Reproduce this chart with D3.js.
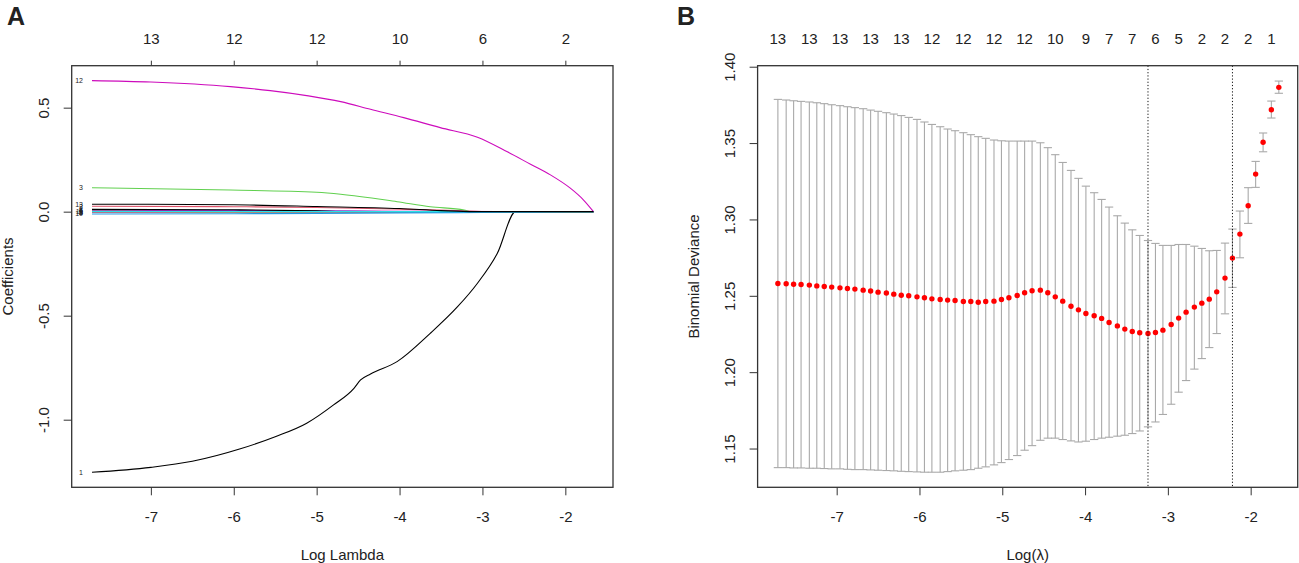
<!DOCTYPE html>
<html>
<head>
<meta charset="utf-8">
<script src="https://cdn.jsdelivr.net/npm/d3@7"></script>
<style>
body { margin: 0; background: #fff; }
text { font-family: "Liberation Sans", Arial, sans-serif; fill: #222; }
</style>
</head>
<body>
<div id="chart"></div>
<script>
// ---- panel A : coefficient paths (log lambda, coefficient) ----
var coef1  = [[-7.71,-1.253],[-7.0,-1.229],[-6.5,-1.200],[-5.92,-1.140],[-5.5,-1.082],[-5.12,-1.017],[-4.8,-0.930],[-4.55,-0.849],[-4.47,-0.809],[-4.35,-0.780],[-4.03,-0.721],[-3.63,-0.585],[-3.30,-0.457],[-3.06,-0.344],[-2.82,-0.200],[-2.6,0],[-1.66,0]];
var coef2  = [[-7.71,0.026],[-6,0.024],[-5,0.020],[-4,0.012],[-3.3,0.005],[-2.9,0],[-1.66,0]];
var coef3  = [[-7.71,0.115],[-6.04,0.104],[-5.0,0.093],[-4.71,0.084],[-4.03,0.048],[-3.63,0.024],[-3.22,0.008],[-3.14,0],[-1.66,0]];
var coef4  = [[-7.71,0.007],[-6,0.006],[-5,0.004],[-4.2,0.001],[-3.8,0],[-1.66,0]];
var coef5  = [[-7.71,-0.004],[-6,-0.003],[-5,-0.002],[-4.4,0],[-1.66,0]];
var coef6  = [[-7.71,0.004],[-6,0.004],[-5,0.003],[-4,0.002],[-2.8,0],[-1.66,0]];
var coef7  = [[-7.71,0.011],[-6,0.009],[-5,0.004],[-4.6,0],[-1.66,0]];
var coef8  = [[-7.71,-0.002],[-5,-0.002],[-3,-0.001],[-2.4,0],[-1.66,0]];
var coef9  = [[-7.71,0.002],[-7,0.001],[-6.5,0],[-1.66,0]];
var coef10 = [[-7.71,-0.011],[-6,-0.010],[-5,-0.008],[-4,-0.006],[-3,-0.004],[-2.4,-0.002],[-1.95,0],[-1.66,0]];
var coef11 = [[-7.71,0.001],[-5,0.001],[-3.6,0],[-1.66,0]];
var coef12 = [[-7.71,0.630],[-7.0,0.623],[-6.04,0.601],[-5.56,0.582],[-5.12,0.558],[-4.71,0.529],[-4.35,0.492],[-3.95,0.452],[-3.51,0.404],[-3.06,0.358],[-2.70,0.288],[-2.42,0.228],[-2.18,0.177],[-1.94,0.113],[-1.78,0.056],[-1.66,0]];
var coef13 = [[-7.71,0.036],[-6,0.033],[-5,0.025],[-4,0.015],[-3.5,0.005],[-3.1,0],[-1.66,0]];
var coefPaths = [coef1, coef2, coef3, coef4, coef5, coef6, coef7, coef8, coef9, coef10, coef11, coef12, coef13];

var dfTicks  = [-7, -6, -5, -4, -3, -2];
var dfLabels = ['13', '12', '12', '10', '6', '2'];
var coefTicks = [-1.0, -0.5, 0.0, 0.5];
var lambdaTicks = [-7, -6, -5, -4, -3, -2];

// ---- panel B : cross validation ----
var logLambda = [-7.71,-7.61,-7.52,-7.43,-7.33,-7.24,-7.15,-7.06,-6.96,-6.87,-6.78,-6.68,-6.59,-6.50,-6.40,-6.31,-6.22,-6.13,-6.03,-5.94,
	-5.85,-5.75,-5.66,-5.57,-5.47,-5.38,-5.29,-5.20,-5.10,-5.01,-4.92,-4.82,-4.73,-4.64,-4.54,-4.45,-4.36,-4.27,-4.17,-4.08,
	-3.99,-3.89,-3.80,-3.71,-3.61,-3.52,-3.43,-3.34,-3.24,-3.15,-3.06,-2.96,-2.87,-2.78,-2.68,-2.59,-2.50,-2.41,-2.31,-2.22,
	-2.13,-2.03,-1.94,-1.85,-1.75,-1.66];
var cvm = [1.2581,1.2579,1.2576,1.2574,1.2570,1.2565,1.2561,1.2557,1.2552,1.2548,1.2544,1.2537,1.2531,1.2524,1.2518,1.2511,1.2504,1.2500,1.2493,1.2487,
	1.2480,1.2476,1.2472,1.2469,1.2463,1.2463,1.2458,1.2463,1.2465,1.2476,1.2487,1.2502,1.2520,1.2533,1.2537,1.2520,1.2493,1.2465,1.2432,1.2408,
	1.2384,1.2369,1.2352,1.2325,1.2303,1.2282,1.2266,1.2258,1.2253,1.2260,1.2275,1.2312,1.2354,1.2393,1.2426,1.2452,1.2478,1.2526,1.2616,1.2747,
	1.2904,1.3090,1.3297,1.3505,1.3718,1.3865];
var cvup = [1.3786,1.3782,1.3777,1.3773,1.3769,1.3764,1.3758,1.3751,1.3745,1.3738,1.3732,1.3725,1.3716,1.3708,1.3699,1.3690,1.3680,1.3668,1.3655,1.3638,
	1.3622,1.3607,1.3592,1.3581,1.3568,1.3555,1.3542,1.3531,1.3520,1.3515,1.3513,1.3513,1.3513,1.3513,1.3502,1.3470,1.3424,1.3373,1.3321,1.3269,
	1.3218,1.3175,1.3131,1.3081,1.3024,1.2976,1.2932,1.2895,1.2862,1.2843,1.2830,1.2830,1.2836,1.2836,1.2825,1.2810,1.2795,1.2797,1.2845,1.2937,
	1.3055,1.3208,1.3380,1.3566,1.3775,1.3906];
var cvlo = [1.1375,1.1375,1.1373,1.1373,1.1371,1.1371,1.1369,1.1367,1.1367,1.1364,1.1362,1.1362,1.1360,1.1358,1.1356,1.1354,1.1351,1.1349,1.1347,1.1345,
	1.1345,1.1345,1.1349,1.1354,1.1358,1.1362,1.1371,1.1380,1.1393,1.1408,1.1428,1.1454,1.1489,1.1519,1.1554,1.1568,1.1568,1.1559,1.1550,1.1543,
	1.1548,1.1559,1.1568,1.1574,1.1581,1.1587,1.1598,1.1615,1.1642,1.1674,1.1723,1.1790,1.1869,1.1945,1.2020,1.2089,1.2161,1.2253,1.2382,1.2555,
	1.2749,1.2974,1.3210,1.3443,1.3664,1.3826];
var nzIndex  = [0,4,8,12,16,20,24,28,32,36,40,43,46,49,52,55,58,61,64];
var nzLabels = ['13','13','13','13','13','12','12','12','12','10','9','7','7','6','5','2','2','2','1'];
var devTicks = [1.15, 1.20, 1.25, 1.30, 1.35, 1.40];
var lambdaMinIndex = 48;
var lambda1seIndex = 59;

var width = 1299;
var height = 563;
var plotTop = 65.7;
var plotBottom = 487.3;
var palette = ['black', '#DF536B', '#61D04F', '#2297E6', '#28E2E5', '#CD0BBC'];

var svg = d3.select('#chart')
			.append('svg')
			.attr('width', width)
			.attr('height', height);

function bottomAxis(g, x_scale) {
	var ax = g.append('g')
		.attr('transform', 'translate(0,' + plotBottom + ')')
		.call(d3.axisBottom(x_scale).tickValues(lambdaTicks).tickSize(8).tickSizeOuter(0).tickFormat(function(d){ return String(d); }));
	ax.select('.domain').remove();
	ax.selectAll('line').attr('stroke', '#333');
	ax.selectAll('text').attr('y', 29.5).attr('dy', '0.35em').style('font-size', '15px').attr('fill', '#222');
}

function leftAxis(g, y_scale, left, ticks, digits) {
	var ax = g.append('g')
		.attr('transform', 'translate(' + left + ',0)')
		.call(d3.axisLeft(y_scale).tickValues(ticks).tickSize(8).tickSizeOuter(0).tickFormat(function(d){ return d.toFixed(digits); }));
	ax.select('.domain').remove();
	ax.selectAll('line').attr('stroke', '#333');
	ax.selectAll('text')
		.attr('x', 0).attr('dy', 0)
		.attr('transform', 'translate(-28,0) rotate(-90)')
		.attr('text-anchor', 'middle')
		.attr('dominant-baseline', 'central')
		.style('font-size', '15px').attr('fill', '#222');
}

function frame(g, left, right) {
	g.append('rect')
		.attr('x', left).attr('y', plotTop)
		.attr('width', right - left).attr('height', plotBottom - plotTop)
		.attr('fill', 'none').attr('stroke', '#333').attr('stroke-width', 1.3);
}

function coefPlot() {
	var left = 71.7, right = 613;
	var g = svg.append('g');

	//Create scales
	var x_scale = d3.scaleLinear().domain([-7.955, -1.425]).range([left, right]);
	var y_scale = d3.scaleLinear().domain([-1.325, 0.7017]).range([plotBottom, plotTop]);

	var line = d3.line()
		.x(function(d){ return x_scale(d[0]); })
		.y(function(d){ return y_scale(d[1]); })
		.curve(d3.curveMonotoneX);

	g.selectAll('path.coef')
		.data(coefPaths)
		.enter()
		.append('path')
		.attr('class', 'coef')
		.attr('d', line)
		.attr('fill', 'none')
		.attr('stroke-width', 1.1)
		.attr('stroke', function(d, i){ return palette[i % 6]; });

	//line numbers at the left ends (they pile up near zero, as in R)
	g.selectAll('text.lab')
		.data(coefPaths)
		.enter()
		.append('text')
		.attr('class', 'lab')
		.attr('x', function(d){ return x_scale(d[0][0]) - 9; })
		.attr('y', function(d){ return y_scale(d[0][1]); })
		.attr('dy', '0.35em')
		.attr('text-anchor', 'end')
		.style('font-size', '7px')
		.attr('fill', '#444')
		.text(function(d, i){ return i + 1; });

	frame(g, left, right);
	bottomAxis(g, x_scale);
	leftAxis(g, y_scale, left, coefTicks, 1);

	//df along the top
	var top = g.append('g')
		.attr('transform', 'translate(0,' + plotTop + ')')
		.call(d3.axisTop(x_scale).tickValues(dfTicks).tickSize(5).tickSizeOuter(0).tickFormat(function(d, i){ return dfLabels[i]; }));
	top.select('.domain').remove();
	top.selectAll('line').attr('stroke', '#333');
	top.selectAll('text').attr('y', -27.4).attr('dy', '0.35em').style('font-size', '15px').attr('fill', '#222');

	g.append('text').attr('x', (left + right) / 2).attr('y', 555).attr('dy', '0.35em')
		.attr('text-anchor', 'middle').style('font-size', '15px').text('Log Lambda');
	g.append('text').attr('transform', 'translate(7,' + ((plotTop + plotBottom) / 2) + ') rotate(-90)')
		.attr('text-anchor', 'middle').attr('dominant-baseline', 'central').style('font-size', '15px').text('Coefficients');
	g.append('text').attr('x', 7).attr('y', 25).style('font-size', '25px').style('font-weight', 'bold').attr('fill', '#000').text('A');
}

function cvPlot() {
	var left = 757.6, right = 1297.7;
	var g = svg.append('g');

	//Create scales
	var x_scale = d3.scaleLinear().domain([-7.955, -1.432]).range([left, right]);
	var y_scale = d3.scaleLinear().domain([1.12462, 1.40066]).range([plotBottom, plotTop]);
	var capW = 0.05;

	var bars = g.append('g').attr('stroke', 'darkgrey').attr('stroke-width', 1.1);
	bars.selectAll('line.v')
		.data(logLambda)
		.enter()
		.append('line')
		.attr('x1', function(d){ return x_scale(d); })
		.attr('x2', function(d){ return x_scale(d); })
		.attr('y1', function(d, i){ return y_scale(cvup[i]); })
		.attr('y2', function(d, i){ return y_scale(cvlo[i]); });
	bars.selectAll('line.u')
		.data(logLambda)
		.enter()
		.append('line')
		.attr('x1', function(d){ return x_scale(d - capW); })
		.attr('x2', function(d){ return x_scale(d + capW); })
		.attr('y1', function(d, i){ return y_scale(cvup[i]); })
		.attr('y2', function(d, i){ return y_scale(cvup[i]); });
	bars.selectAll('line.l')
		.data(logLambda)
		.enter()
		.append('line')
		.attr('x1', function(d){ return x_scale(d - capW); })
		.attr('x2', function(d){ return x_scale(d + capW); })
		.attr('y1', function(d, i){ return y_scale(cvlo[i]); })
		.attr('y2', function(d, i){ return y_scale(cvlo[i]); });

	//Create circle
	g.selectAll('circle')
		.data(logLambda)
		.enter()
		.append('circle')
		.attr('cx', function(d){ return x_scale(d); })
		.attr('cy', function(d, i){ return y_scale(cvm[i]); })
		.attr('r', 2.7)
		.attr('fill', 'red');

	//lambda.min and lambda.1se
	g.selectAll('line.sel')
		.data([logLambda[lambdaMinIndex], logLambda[lambda1seIndex]])
		.enter()
		.append('line')
		.attr('x1', function(d){ return x_scale(d); })
		.attr('x2', function(d){ return x_scale(d); })
		.attr('y1', plotTop)
		.attr('y2', plotBottom)
		.attr('stroke', '#111')
		.attr('stroke-width', 1)
		.attr('stroke-dasharray', '1.2,2');

	frame(g, left, right);
	bottomAxis(g, x_scale);
	leftAxis(g, y_scale, left, devTicks, 2);

	//number of nonzero coefficients
	g.selectAll('text.nz')
		.data(nzIndex)
		.enter()
		.append('text')
		.attr('class', 'nz')
		.attr('x', function(d){ return x_scale(logLambda[d]); })
		.attr('y', 38.3)
		.attr('dy', '0.35em')
		.attr('text-anchor', 'middle')
		.style('font-size', '15px')
		.text(function(d, i){ return nzLabels[i]; });

	g.append('text').attr('x', (left + right) / 2).attr('y', 555).attr('dy', '0.35em')
		.attr('text-anchor', 'middle').style('font-size', '15px').text('Log(\u03BB)');
	g.append('text').attr('transform', 'translate(693.5,' + ((plotTop + plotBottom) / 2) + ') rotate(-90)')
		.attr('text-anchor', 'middle').attr('dominant-baseline', 'central').style('font-size', '15px').text('Binomial Deviance');
	g.append('text').attr('x', 677).attr('y', 25).style('font-size', '25px').style('font-weight', 'bold').attr('fill', '#000').text('B');
}

coefPlot();
cvPlot();
</script>
</body>
</html>
